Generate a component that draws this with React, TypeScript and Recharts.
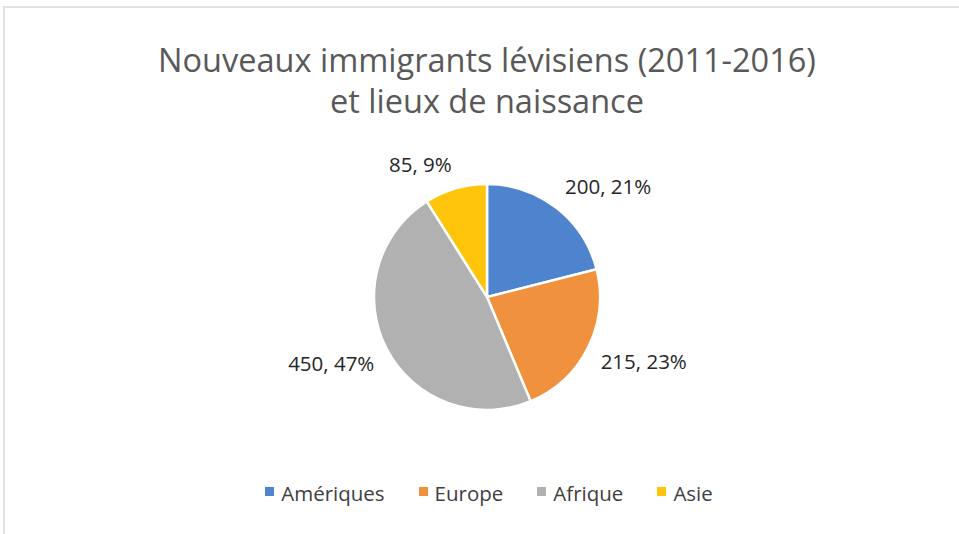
import React from 'react';
import { PieChart, Pie, Cell, Legend } from 'recharts';

const categories = ['Amériques', 'Europe', 'Afrique', 'Asie'];
const values = [200, 215, 450, 85];
const COLORS = ['#4E84CE', '#F0913D', '#B1B1B1', '#FFC50B'];

const data = categories.map((name, i) => ({ name, value: values[i] }));

const RAD = Math.PI / 180;
const FONT = '"Open Sans", "Noto Sans", sans-serif';

const renderLabel = (props: any) => {
  const { cx, cy, midAngle, outerRadius, value, percent } = props;
  const r = outerRadius + 14;
  const x = cx + r * Math.cos(-midAngle * RAD);
  const y = cy + r * Math.sin(-midAngle * RAD);
  const right = x > cx;
  const dy = y < cy ? -11 : 7;
  return (
    <text
      x={x}
      y={y + dy}
      textAnchor={right ? 'start' : 'end'}
      dominantBaseline="central"
      fill="#262626"
      fontSize={20.5}
      fontFamily={FONT}
    >
      {`${value}, ${Math.round(percent * 100)}%`}
    </text>
  );
};

const renderLegend = () => (
  <div
    style={{
      display: 'flex',
      justifyContent: 'center',
      gap: 34,
      fontFamily: FONT,
      fontSize: 20.5,
      color: '#404040',
    }}
  >
    {data.map((d, i) => (
      <div key={d.name} style={{ display: 'flex', alignItems: 'center' }}>
        <span
          style={{
            display: 'inline-block',
            width: 9,
            height: 9,
            background: COLORS[i],
            marginRight: 7,
            marginTop: -4,
          }}
        />
        <span>{d.name}</span>
      </div>
    ))}
  </div>
);

export default function App() {
  return (
    <div style={{ position: 'absolute', left: 0, top: 0, width: 959, height: 534, background: '#fff', overflow: 'hidden' }}>
      <div
        style={{
          position: 'absolute',
          left: 3,
          top: 6,
          width: 1000,
          height: 600,
          borderLeft: '2px solid #E2E2E2',
          borderTop: '2px solid #E2E2E2',
        }}
      />
      <div
        style={{
          position: 'absolute',
          left: 0,
          top: 39,
          width: 974,
          textAlign: 'center',
          fontFamily: FONT,
          fontSize: 32.5,
          lineHeight: '41px',
          color: '#595959',
        }}
      >
        Nouveaux immigrants lévisiens (2011-2016)
        <br />
        et lieux de naissance
      </div>
      <PieChart
        width={959}
        height={534}
        margin={{ top: 0, right: 0, bottom: 0, left: 0 }}
        style={{ position: 'absolute', left: 0, top: 0 }}
      >
        <Pie
          data={data}
          dataKey="value"
          cx={487}
          cy={297}
          outerRadius={113}
          startAngle={90}
          endAngle={-270}
          stroke="#fff"
          strokeWidth={2.5}
          label={renderLabel}
          labelLine={false}
          isAnimationActive={false}
        >
          {data.map((entry, index) => (
            <Cell key={`cell-${index}`} fill={COLORS[index % COLORS.length]} />
          ))}
        </Pie>
        <Legend
          content={renderLegend}
          wrapperStyle={{ left: 0, width: 978, top: 479, bottom: 'auto' }}
        />
      </PieChart>
    </div>
  );
}
